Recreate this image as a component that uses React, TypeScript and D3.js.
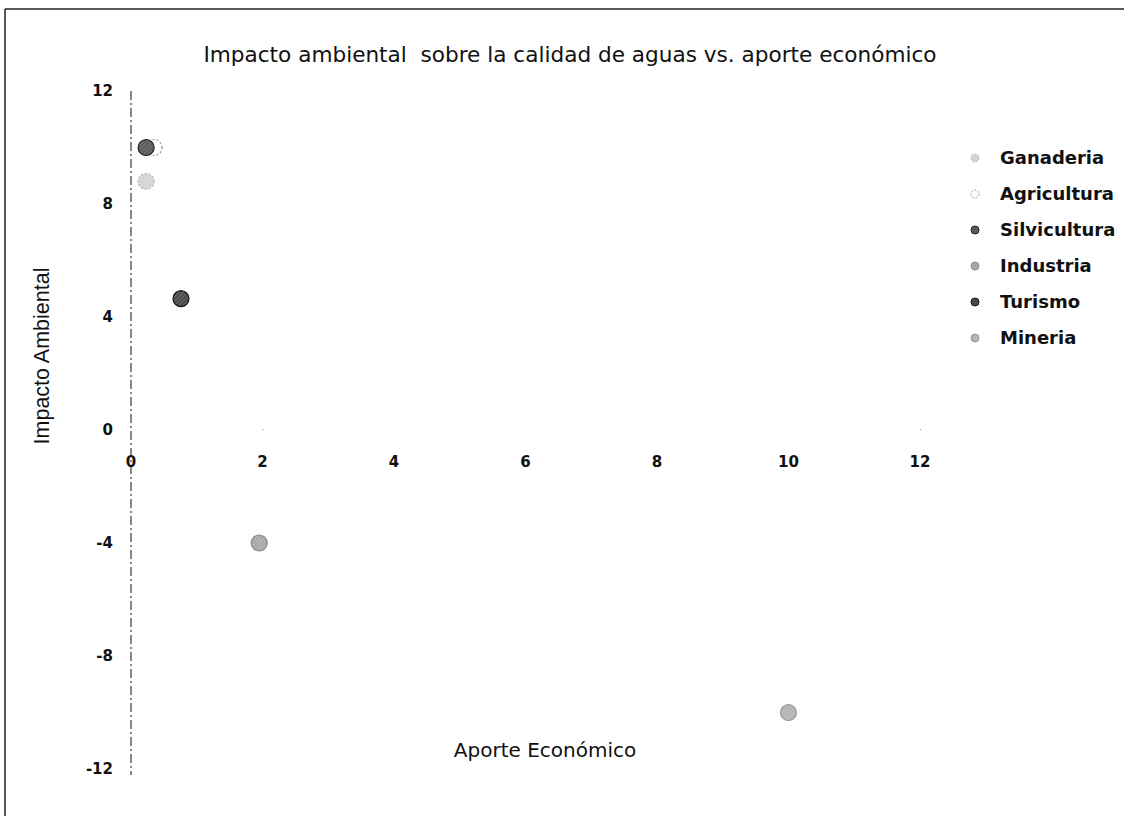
import React from "react";
import * as d3 from "d3";

const seriesNames = ["Ganaderia", "Agricultura", "Silvicultura", "Industria", "Turismo", "Mineria"];
const aporte = [0.23, 0.35, 0.23, 1.95, 0.76, 10];
const impacto = [8.8, 10, 10, -4, 4.65, -10];
const fills = ["#d4d4d4", "#ffffff", "#5a5a5a", "#a8a8a8", "#4a4a4a", "#b4b4b4"];
const strokes = ["#b8b8b8", "#9a9a9a", "#222222", "#8a8a8a", "#1a1a1a", "#999999"];
const xTicks = [0, 2, 4, 6, 8, 10, 12];
const yTicks = [12, 8, 4, 0, -4, -8, -12];
const title = "Impacto ambiental  sobre la calidad de aguas vs. aporte económico";
const xTitle = "Aporte Económico";
const yTitle = "Impacto Ambiental";

const W = 1124;
const H = 816;

export default function App() {
  const x = d3.scaleLinear().domain([0, 12]).range([131, 920]);
  const y = d3.scaleLinear().domain([-12, 12]).range([769, 91]);
  const drawOrder = [0, 1, 2, 3, 4, 5];
  return (
    <svg
      width={W}
      height={H}
      style={{ position: "absolute", left: 0, top: 0, background: "#fff" }}
      fontFamily="DejaVu Sans, Verdana, sans-serif"
    >
      <defs>
        <pattern id="hatch" width="3" height="3" patternUnits="userSpaceOnUse" patternTransform="rotate(45)">
          <rect width="3" height="3" fill="none" />
          <line x1="0" y1="0" x2="0" y2="3" stroke="#ffffff" strokeOpacity={0.35} strokeWidth={1} />
        </pattern>
      </defs>
      <rect x={0} y={0} width={W} height={H} fill="#fff" />
      {/* frame */}
      <line x1={5} y1={9} x2={W} y2={9} stroke="#222" strokeWidth={1.5} />
      <line x1={5} y1={9} x2={5} y2={H} stroke="#222" strokeWidth={1.5} />

      <text
        x={570}
        y={62}
        textAnchor="middle"
        fontSize={21.6}
        fill="#111"
        style={{ whiteSpace: "pre" }}
      >
        {title}
      </text>

      {/* y axis line (dash-dot) */}
      <line
        x1={x(0)}
        x2={x(0)}
        y1={y(12)}
        y2={y(-12) + 6}
        stroke="#111"
        strokeWidth={1}
        strokeDasharray="9,3,2,3"
      />
      {/* x tick dots */}
      {xTicks.filter((t) => t === 2 || t === 12).map((t) => (
        <rect key={"xd" + t} x={x(t)} y={y(0) - 1} width={1} height={1} fill="#999" />
      ))}

      {yTicks.map((t) => (
        <text
          key={"yt" + t}
          x={113}
          y={y(t)}
          dy="0.35em"
          textAnchor="end"
          fontSize={15}
          fontWeight="bold"
          fill="#111"
        >
          {t}
        </text>
      ))}
      {xTicks.map((t) => (
        <text
          key={"xt" + t}
          x={x(t)}
          y={y(0) + 32}
          dy="0.35em"
          textAnchor="middle"
          fontSize={15}
          fontWeight="bold"
          fill="#111"
        >
          {t}
        </text>
      ))}

      <text x={545} y={757} textAnchor="middle" fontSize={20} fill="#111">
        {xTitle}
      </text>
      <text
        transform={`translate(49,${356}) rotate(-90)`}
        textAnchor="middle"
        fontSize={21.5}
        fontFamily="Liberation Sans, Arial, sans-serif"
        fill="#111"
      >
        {yTitle}
      </text>

      {drawOrder.map((i) => (
        <g key={"p" + i}>
          <circle
            cx={x(aporte[i])}
            cy={y(impacto[i])}
            r={8}
            fill={fills[i]}
            stroke={strokes[i]}
            strokeWidth={1.2}
            strokeDasharray={i === 0 || i === 1 ? "2,2" : undefined}
          />
          {i !== 1 && (
            <circle cx={x(aporte[i])} cy={y(impacto[i])} r={7} fill="url(#hatch)" />
          )}
        </g>
      ))}

      {seriesNames.map((name, i) => {
        const yy = 158 + i * 36;
        return (
          <g key={"lg" + name}>
            <circle
              cx={975}
              cy={yy}
              r={4}
              fill={fills[i]}
              stroke={strokes[i]}
              strokeWidth={1}
              strokeDasharray={i === 0 || i === 1 ? "2,1.5" : undefined}
            />
            <text x={1000} y={yy} dy="0.35em" fontSize={18} fontWeight="bold" fill="#111">
              {name}
            </text>
          </g>
        );
      })}
    </svg>
  );
}
